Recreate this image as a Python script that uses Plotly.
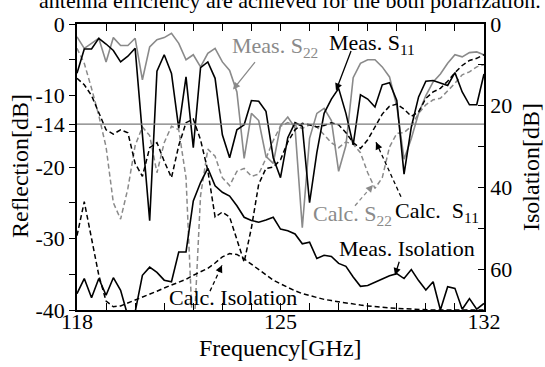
import plotly.graph_objects as go

# ---------------- data ----------------
freq = [118 + 0.25 * i for i in range(57)]

meas_s22 = [-1.8, -3.4, -2.7, -2.0, -5.3, -1.9, -3.0, -3.0, -2.0, -7.8, -3.2, -2.2, -1.9, -1.3, -2.7, -5.0, -4.3, -6.0, -4.1,
            -3.4, -5.3, -6.5, -9.5, -18.8, -12.5, -13.5, -18.5, -19.5, -14.2, -13.0, -14.5, -28.5, -16.0, -12.5, -11.8, -13.5, -20.6, -17.0,
            -7.5, -5.5, -5.0, -5.0, -6.0, -7.4, -11.5, -18.9, -16.0, -12.5, -10.0, -8.1, -7.0, -5.5, -4.3, -4.6, -4.0, -3.9, -4.3]

meas_s11 = [-6.9, -3.5, -3.5, -2.0, -2.8, -3.7, -5.3, -4.5, -3.4, -16.0, -27.5, -6.6, -4.3, -6.9, -14.6, -7.4, -17.3, -6.1, -5.3,
            -7.6, -15.5, -18.7, -14.8, -14.1, -10.7, -10.8, -12.2, -18.7, -21.5, -15.9, -13.8, -14.3, -25.0, -18.0, -12.5, -10.5, -9.0, -12.5,
            -16.9, -9.9, -10.5, -11.6, -8.5, -8.2, -10.7, -21.0, -14.4, -10.2, -8.0, -7.9, -8.2, -8.6, -6.8, -9.5, -11.3, -11.3, -7.0]

calc_s11 = [-7.6, -8.5, -10.0, -12.5, -14.8, -15.4, -14.8, -15.2, -19.5, -21.3, -17.3, -16.6, -19.2, -21.5, -17.0, -13.8, -13.3, -16.2, -20.5,
            -27.0, -26.3, -27.0, -30.0, -33.3, -28.5, -22.4, -20.2, -20.0, -19.0, -16.5, -14.8, -13.9, -14.1, -14.4, -14.2, -13.8, -14.1, -15.2,
            -16.6, -17.4, -16.2, -14.5, -12.6, -11.5, -11.2, -11.9, -12.9, -12.3, -10.4, -9.5, -9.0, -8.0, -6.8, -5.8, -5.1, -4.8, -4.3]

calc_s22 = [-3.4, -5.5, -9.0, -12.8, -17.2, -25.0, -27.3, -23.0, -17.0, -14.4, -15.6, -20.8, -16.6, -14.3, -14.8, -21.5, -45.0, -24.0, -17.5,
            -18.5, -21.5, -22.6, -20.6, -20.2, -21.3, -21.0, -18.8, -16.3, -14.3, -13.8, -14.2, -14.6, -14.1, -14.4, -15.5, -16.6, -17.3, -16.5,
            -16.8, -18.0, -20.8, -23.0, -21.5, -17.2, -15.3, -15.2, -14.3, -12.5, -11.3, -10.6, -10.4, -9.4, -8.3, -7.1, -6.7, -6.0, -5.7]

meas_iso = [66.0, 62.3, 67.0, 62.3, 66.4, 62.1, 65.2, 71.5, 70.5, 61.5, 59.5, 60.8, 62.7, 63.1, 55.8, 55.8, 43.3, 38.8, 35.3,
            39.6, 41.2, 42.1, 44.5, 47.3, 48.1, 48.5, 48.0, 47.3, 50.2, 50.6, 51.4, 53.8, 53.4, 57.4, 56.6, 56.9, 58.6, 59.3,
            61.9, 64.2, 64.0, 63.1, 62.4, 61.6, 61.1, 62.3, 60.1, 62.8, 65.1, 63.1, 70.0, 64.3, 64.7, 69.8, 67.2, 69.8, 68.4]

calc_iso = [51.8, 43.5, 52.5, 61.5, 67.8, 69.2, 69.0, 68.3, 67.5, 66.8, 66.2, 65.4, 64.6, 63.9, 63.2, 62.5, 61.5, 60.6, 59.8,
            58.5, 57.0, 56.2, 56.4, 57.5, 58.8, 60.2, 61.6, 62.7, 63.6, 64.5, 65.3, 66.0, 66.5, 67.0, 67.4, 67.7, 68.0, 68.3,
            68.6, 68.8, 69.0, 69.2, 69.4, 69.5, 69.6, 69.7, 69.8, 69.9, 69.9, 70.0, 70.0, 70.0, 70.0, 70.0, 70.0, 70.0, 70.0]

threshold_db = -14
x_ticks = [118, 125, 132]
y_ticks = [0, -10, -14, -20, -30, -40]
y_ticklabels = ["0", "-10", "-14", "-20", "-30", "-40"]
y2_ticks = [0, 20, 40, 60]

# ---------------- styling ----------------
FONT = "Liberation Serif, Times New Roman, serif"
GRAY = "#8a8a8a"
BLACK = "#000000"
FS = 22
FS_TITLE = 24
W, H = 545, 367
L, R, T, B = 77, 484, 22, 310


def P(xp, yp):
    return (xp - L) / (R - L), (B - yp) / (B - T)


fig = go.Figure()
fig.add_trace(go.Scatter(x=freq, y=meas_s22, mode="lines", line=dict(color=GRAY, width=1.6), name="Meas. S22"))
fig.add_trace(go.Scatter(x=freq, y=calc_s22, mode="lines", line=dict(color=GRAY, width=1.5, dash="5px,3px"), name="Calc. S22"))
fig.add_trace(go.Scatter(x=freq, y=calc_s11, mode="lines", line=dict(color=BLACK, width=1.5, dash="5px,3px"), name="Calc. S11"))
fig.add_trace(go.Scatter(x=freq, y=meas_s11, mode="lines", line=dict(color=BLACK, width=1.6), name="Meas. S11"))
fig.add_trace(go.Scatter(x=freq, y=calc_iso, mode="lines", yaxis="y2", line=dict(color=BLACK, width=1.5, dash="5px,3px"), name="Calc. Isolation"))
fig.add_trace(go.Scatter(x=freq, y=meas_iso, mode="lines", yaxis="y2", line=dict(color=BLACK, width=1.6), name="Meas. Isolation"))

fig.add_shape(type="line", xref="paper", x0=0, x1=1, yref="y", y0=threshold_db, y1=threshold_db,
              line=dict(color="#7a7a7a", width=1.4), layer="above")

annotations = []


def label(text, xp, yp, color, angle=0, xanchor="center", size=FS):
    x, y = P(xp, yp)
    annotations.append(dict(text=text, x=x, y=y, xref="paper", yref="paper", showarrow=False,
                            xanchor=xanchor, yanchor="middle", textangle=angle,
                            font=dict(family=FONT, size=size, color=color)))


def solid_arrow(tail, tip, color):
    x, y = P(*tip)
    annotations.append(dict(text=" ", x=x, y=y, xref="paper", yref="paper", showarrow=True,
                            ax=tail[0] - tip[0], ay=tail[1] - tip[1], arrowhead=2, arrowsize=1.1,
                            arrowwidth=1.3, arrowcolor=color, standoff=0, font=dict(size=2)))


def dashed_arrow(tail, tip, color):
    x0, y0 = P(*tail)
    x1, y1 = P(*tip)
    fig.add_shape(type="line", xref="paper", yref="paper", x0=x0, y0=y0, x1=x1, y1=y1,
                  line=dict(color=color, width=1.3, dash="4px,3px"))
    dx, dy = tail[0] - tip[0], tail[1] - tip[1]
    n = (dx * dx + dy * dy) ** 0.5
    annotations.append(dict(text=" ", x=x1, y=y1, xref="paper", yref="paper", showarrow=True,
                            ax=dx / n * 9, ay=dy / n * 9, arrowhead=2, arrowsize=1.1,
                            arrowwidth=1.3, arrowcolor=color, standoff=0, font=dict(size=2)))


label("Meas. S<sub>22</sub>", 275, 45, GRAY)
solid_arrow((257, 58), (233, 88), GRAY)
label("Meas. S<sub>11</sub>", 372, 42, BLACK)
solid_arrow((352, 47), (336, 89), BLACK)
label("Calc. S<sub>22</sub>", 352, 214, GRAY)
dashed_arrow((355, 205), (373, 184), GRAY)
label("Calc.  S<sub>11</sub>", 437, 211, BLACK)
dashed_arrow((401, 196), (376, 141), BLACK)
label("Meas. Isolation", 407, 248, BLACK)
solid_arrow((400, 259), (395, 275), BLACK)
label("Calc. Isolation", 233, 297, BLACK)
dashed_arrow((210, 291), (222, 265), BLACK)

# axis titles
label("Reflection[dB]", 20, 165, BLACK, angle=-90, size=FS_TITLE)
label("Isolation[dB]", 531, 166, BLACK, angle=-90, size=FS_TITLE)
label("Frequency[GHz]", 280, 348, BLACK, size=FS_TITLE)
# cropped line of text from the page above the figure
label("antenna efficiency are achieved for the both polarization.", 543, -2, BLACK, xanchor="right")

fig.update_layout(
    width=W, height=H, autosize=False,
    margin=dict(l=L, r=W - R, t=T, b=H - B, pad=0),
    paper_bgcolor="white", plot_bgcolor="white",
    showlegend=False,
    font=dict(family=FONT, size=FS, color=BLACK),
    annotations=annotations,
    xaxis=dict(range=[118, 132], tickmode="array", tickvals=x_ticks, ticktext=[str(v) for v in x_ticks],
               ticks="inside", ticklen=7, tickwidth=1.2, tickcolor=BLACK, ticklabelstandoff=-9,
               minor=dict(tickmode="linear", tick0=118, dtick=1, ticks="inside", ticklen=7, tickwidth=1.2, tickcolor=BLACK),
               showline=True, linecolor=BLACK, linewidth=1.5, mirror="ticks",
               showgrid=False, zeroline=False, tickfont=dict(family=FONT, size=FS, color=BLACK)),
    yaxis=dict(range=[-40, 0], tickmode="array", tickvals=y_ticks, ticktext=y_ticklabels,
               ticks="outside", ticklen=6, tickwidth=1.2, tickcolor=BLACK,
               minor=dict(tickmode="array", tickvals=[-5, -15, -25, -35], ticks="outside", ticklen=6, tickwidth=1.2, tickcolor=BLACK),
               showline=True, linecolor=BLACK, linewidth=1.5,
               showgrid=False, zeroline=False, tickfont=dict(family=FONT, size=FS, color=BLACK)),
    yaxis2=dict(range=[70, 0], overlaying="y", side="right", tickmode="array", tickvals=y2_ticks,
                ticktext=[str(v) for v in y2_ticks],
                ticks="inside", ticklen=6, tickwidth=1.2, tickcolor=BLACK,
                minor=dict(tickmode="array", tickvals=[10, 30, 50], ticks="inside", ticklen=6, tickwidth=1.2, tickcolor=BLACK),
                showline=True, linecolor=BLACK, linewidth=1.5,
                showgrid=False, zeroline=False, tickfont=dict(family=FONT, size=FS, color=BLACK)),
)

fig.write_html("out.html")
